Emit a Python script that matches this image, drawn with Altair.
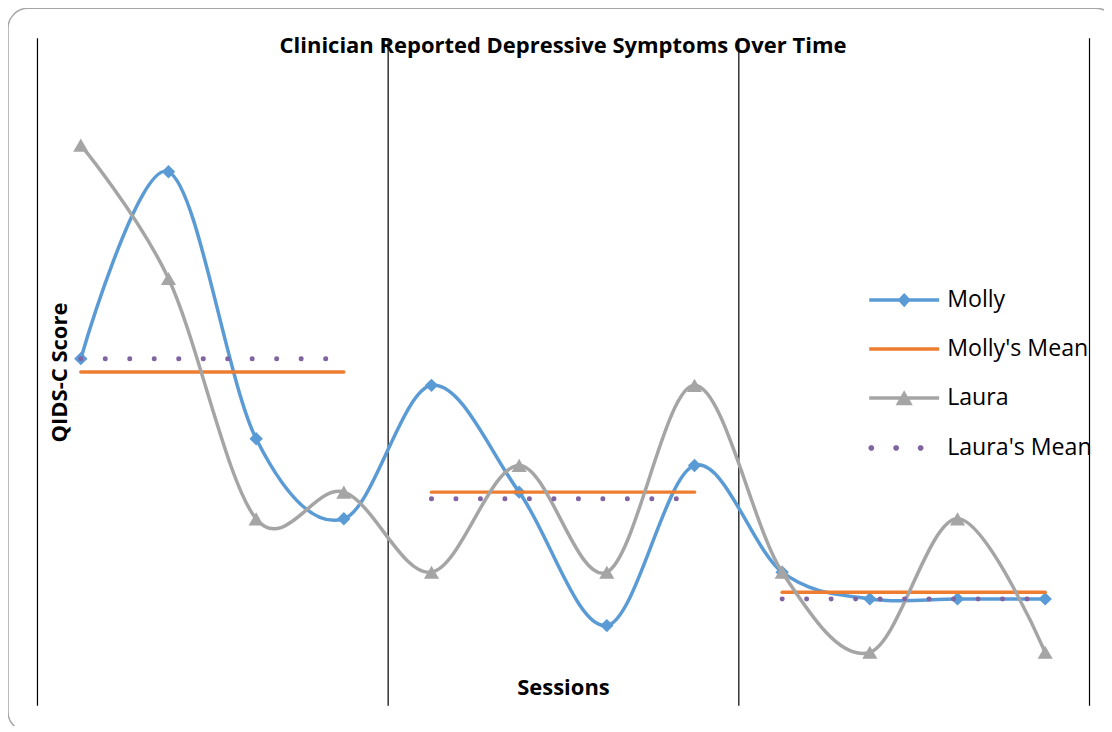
import altair as alt
import pandas as pd

# ---- data ----
sessions = list(range(1, 13))
phases = ["A1", "A1", "A1", "A1", "B", "B", "B", "B", "A2", "A2", "A2", "A2"]
molly = [14, 21, 11, 8, 13, 9, 4, 10, 6, 5, 5, 5]
laura = [22, 17, 8, 9, 6, 10, 6, 13, 6, 3, 8, 3]
molly_mean = [13.5, 13.5, 13.5, 13.5, 9, 9, 9, 9, 5.25, 5.25, 5.25, 5.25]
laura_mean = [14, 14, 14, 14, 8.75, 8.75, 8.75, 8.75, 5, 5, 5, 5]
phase_bounds = [0.5, 4.5, 8.5, 12.5]

series_names = ["Molly", "Molly's Mean", "Laura", "Laura's Mean"]
series_colors = ["#5B9BD5", "#ED7D31", "#A5A5A5", "#8064A2"]

rows = []
for name, vals in zip(series_names, [molly, molly_mean, laura, laura_mean]):
    for s, p, v in zip(sessions, phases, vals):
        rows.append({"series": name, "session": s, "phase": p, "score": v})
df = pd.DataFrame(rows)
bounds_df = pd.DataFrame({"b": phase_bounds})
legend_df = pd.DataFrame({"series": series_names})

FONT = "Open Sans"
FS = 22
W, H = 1053, 668

x_enc = alt.X("session:Q", scale=alt.Scale(domain=[0.5, 12.5], nice=False, zero=False),
              axis=alt.Axis(title="Sessions", labels=False, ticks=False, domain=False, grid=False,
                            titleY=-18, titleBaseline="middle", titleFont=FONT, titleFontSize=FS,
                            titleFontWeight="bold", titleColor="#000000"))
y_enc = alt.Y("score:Q", scale=alt.Scale(domain=[1, 26], nice=False, zero=False),
              axis=alt.Axis(title="QIDS-C Score", labels=False, ticks=False, domain=False, grid=False,
                            titleX=23, titleBaseline="middle", titleFont=FONT, titleFontSize=FS,
                            titleFontWeight="bold", titleColor="#000000"))

base = alt.Chart(df).encode(x=x_enc, y=y_enc)


def sel(name):
    return alt.datum.series == name


border = alt.Chart(legend_df).transform_filter(alt.datum.series == "Molly").mark_rect(
    fill=None, stroke="#A6A6A6", strokeWidth=1.5, cornerRadius=20, clip=False
).encode(x=alt.value(-29), x2=alt.value(1080), y=alt.value(-30), y2=alt.value(694))

rules = alt.Chart(bounds_df).mark_rule(color="#000000", strokeWidth=1.2, xOffset=0.5).encode(x="b:Q")

molly_line = base.transform_filter(sel("Molly")).mark_line(
    interpolate="cardinal", color=series_colors[0], strokeWidth=3.5, strokeCap="round", strokeJoin="round")
molly_pts = base.transform_filter(sel("Molly")).mark_point(
    shape="diamond", filled=True, size=180, color=series_colors[0], opacity=1)
mmean_line = base.transform_filter(sel("Molly's Mean")).mark_line(
    interpolate="cardinal", color=series_colors[1], strokeWidth=3.5, strokeCap="round"
).encode(detail="phase:N")
laura_line = base.transform_filter(sel("Laura")).mark_line(
    interpolate="cardinal", color=series_colors[2], strokeWidth=3.5, strokeCap="round", strokeJoin="round")
laura_pts = base.transform_filter(sel("Laura")).mark_point(
    shape="triangle-up", filled=True, size=230, color=series_colors[2], opacity=1)
lmean_line = base.transform_filter(sel("Laura's Mean")).mark_line(
    interpolate="linear", color=series_colors[3], strokeWidth=5, strokeCap="round",
    strokeDash=[0.01, 24.5]
).encode(detail="phase:N")


def dot(cx):
    # small octagon, widened by the legend stroke into a round dot
    r, q = 0.03, 0.0124
    return (f"M{cx + r},{-q}L{cx + r},{q}L{cx + q},{r}L{cx - q},{r}L{cx - r},{q}"
            f"L{cx - r},{-q}L{cx - q},{-r}L{cx + q},{-r}Z")


# legend symbols (custom paths: line + marker)
sym_paths = [
    "M-1,0H1M0,-0.13L0.12,0L0,0.13L-0.12,0Z",
    "M-1,0H1",
    "M-1,0H1M0,-0.12L0.16,0.16L-0.16,0.16Z",
    dot(-0.94) + dot(-0.23) + dot(0.47),
]
leg_scale_c = alt.Scale(domain=series_names, range=series_colors)
leg_scale_s = alt.Scale(domain=series_names, range=sym_paths)
legend_layer = alt.Chart(legend_df).transform_filter("false").mark_point(
    opacity=1, strokeWidth=3.5, filled=False
).encode(
    stroke=alt.Stroke("series:N", scale=leg_scale_c, legend=alt.Legend(title=None)),
    fill=alt.Fill("series:N", scale=leg_scale_c, legend=alt.Legend(title=None)),
    shape=alt.Shape("series:N", scale=leg_scale_s, legend=alt.Legend(title=None)),
)

chart = alt.layer(
    border, rules, molly_line, molly_pts, mmean_line, laura_line, laura_pts, lmean_line, legend_layer
).properties(
    width=W, height=H,
    title=alt.TitleParams("Clinician Reported Depressive Symptoms Over Time", font=FONT, fontSize=FS,
                          fontWeight="bold", color="#000000", anchor="middle", offset=-17, dy=33),
    padding={"left": 29, "top": 30, "right": 15, "bottom": 20},
    autosize=alt.AutoSizeParams(type="none"),
).configure_view(stroke=None).configure_legend(
    orient="none", legendX=831, legendY=225, padding=0, rowPadding=-3.5,
    symbolSize=4900, symbolStrokeWidth=3.5, labelFont=FONT, labelFontSize=23.2,
    labelColor="#000000", labelOffset=6, labelLimit=300,
)

chart.save("out.html", embed_options={"renderer": "svg", "actions": False})
